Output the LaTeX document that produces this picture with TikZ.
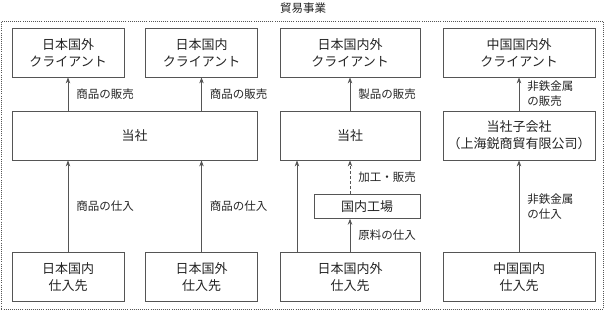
\documentclass[tikz,border=0pt]{standalone}
\usepackage{fontspec}
\setmainfont{Noto Sans CJK JP}
\usetikzlibrary{arrows.meta}
\definecolor{linecol}{RGB}{85,85,85}
\definecolor{textcol}{RGB}{35,35,35}
\tikzset{
  % entity box
  ebox/.style={rectangle, draw=linecol, line width=0.8bp, minimum width=#1, minimum height=49bp,
               inner sep=0pt, align=center, text=textcol, font=\fontsize{13bp}{16.7bp}\selectfont},
  ebox/.default={112bp},
  % small box
  sbox/.style={ebox=#1, minimum height=24bp},
  % trade frame
  frame/.style={rectangle, draw=linecol, line width=0.9bp, dash pattern=on 1bp off 1.1bp,
                minimum width=602bp, minimum height=288bp, inner sep=0pt},
  % flow arrow
  flow/.style={-{Stealth[length=6bp,width=4.5bp]}, draw=linecol, line width=0.8bp},
  % dashed flow arrow
  dflow/.style={flow, dash pattern=on 3bp off 2bp},
  % flow label
  flowlabel/.style={anchor=west, inner sep=0pt, xshift=8bp, align=left, text=textcol,
                    font=\fontsize{11.5bp}{15bp}\selectfont},
  % title label
  titlelabel/.style={inner sep=0pt, text=textcol, font=\fontsize{11.5bp}{14bp}\selectfont},
}

\begin{document}
\begin{tikzpicture}[x=1bp, y=-1bp]
  \useasboundingbox (0,0) rectangle (606,310);
  % frame and title
  \node[frame] (trade) at (302.5,165) {};
  \node[titlelabel] (ttl) at (303,8) {貿易事業};

  % clients
  \node[ebox] (cliJPout) at (68,52.5) {日本国外\\クライアント};
  \node[ebox] (cliJPin) at (201.5,52.5) {日本国内\\クライアント};
  \node[ebox=140bp] (cliJPall) at (350,52.5) {日本国内外\\クライアント};
  \node[ebox=152bp] (cliCN) at (519,52.5) {中国国内外\\クライアント};

  % companies
  \node[ebox=245bp] (self) at (134.5,135.5) {当社};
  \node[ebox=140bp] (selfB) at (350,135.5) {当社};
  \node[ebox=152bp] (sub) at (519,135.5) {当社子会社\\（上海鋭商貿有限公司）};
  \node[sbox=106bp] (factory) at (367,206.3) {国内工場};

  % suppliers
  \node[ebox] (supJPin) at (68,277.2) {日本国内\\仕入先};
  \node[ebox] (supJPout) at (201.5,277.2) {日本国外\\仕入先};
  \node[ebox=140bp] (supJPall) at (350,277.2) {日本国内外\\仕入先};
  \node[ebox=152bp] (supCN) at (519,277.2) {中国国内\\仕入先};

  % sales
  \draw[flow] (self.north -| cliJPout.south) -- node[flowlabel] (sellA) {商品の販売} (cliJPout.south);
  \draw[flow] (self.north -| cliJPin.south) -- node[flowlabel] (sellB) {商品の販売} (cliJPin.south);
  \draw[flow] (selfB.north) -- node[flowlabel] (sellC) {製品の販売} (cliJPall.south);
  \draw[flow] (sub.north) -- node[flowlabel] (sellD) {非鉄金属\\の販売} (cliCN.south);

  % purchases
  \draw[flow] (supJPin.north) -- node[flowlabel] (buyA) {商品の仕入} (self.south -| supJPin.north);
  \draw[flow] (supJPout.north) -- node[flowlabel] (buyB) {商品の仕入} (self.south -| supJPout.north);
  \draw[flow] ([xshift=-53bp]supJPall.north) -- ([xshift=-53bp]selfB.south);
  \draw[flow] (supJPall.north) -- node[flowlabel] (buyC) {原料の仕入} (factory.south -| supJPall.north);
  \draw[dflow] (factory.north -| selfB.south) -- node[flowlabel] (procC) {加工・販売} (selfB.south);
  \draw[flow] (supCN.north) -- node[flowlabel] (buyD) {非鉄金属\\の仕入} (sub.south);
\end{tikzpicture}
\end{document}
